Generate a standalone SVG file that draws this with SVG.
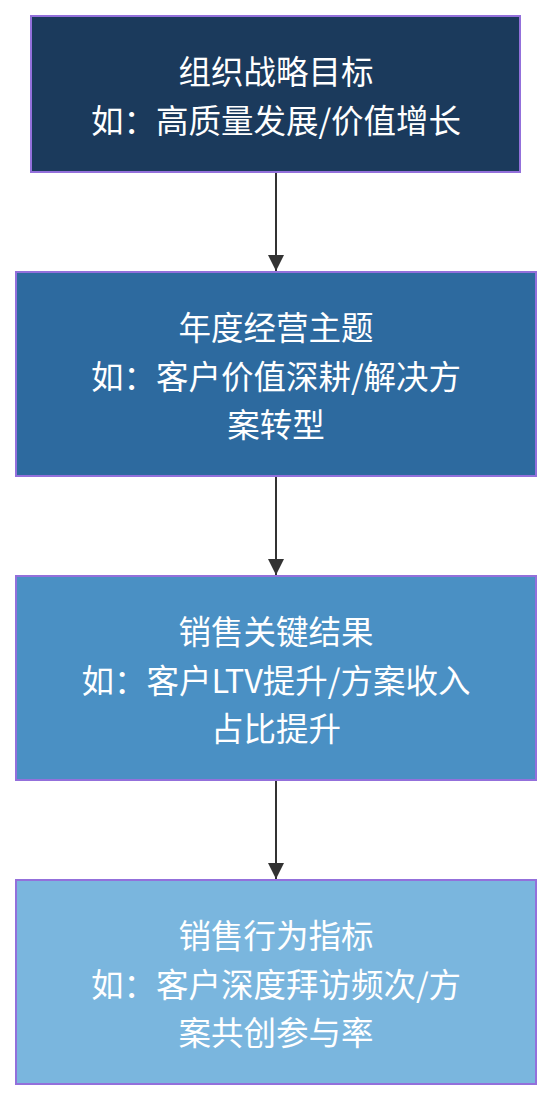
<svg xmlns="http://www.w3.org/2000/svg" width="552" height="1100" viewBox="0 0 552 1100">
<style>
.box{stroke:#9370DB;stroke-width:2}
.t{font-family:"Noto Sans CJK SC","Noto Sans",sans-serif;font-size:32.5px;fill:#ffffff;text-anchor:middle;dominant-baseline:central}
.edge{stroke:#333333;stroke-width:2;fill:none}
</style>
<defs>
<marker id="arrow" viewBox="0 0 10 10" refX="10" refY="5" markerUnits="userSpaceOnUse" markerWidth="16" markerHeight="16" orient="auto">
<path d="M0,0 L10,5 L0,10 z" fill="#333333"/>
</marker>
</defs>
<rect width="552" height="1100" fill="#ffffff"/>
<g id="edges">
<path class="edge" d="M276,172 L276,271" marker-end="url(#arrow)"/>
<path class="edge" d="M276,476 L276,575" marker-end="url(#arrow)"/>
<path class="edge" d="M276,780 L276,879" marker-end="url(#arrow)"/>
</g>
<g id="n1">
<rect class="box" x="31" y="16" width="489" height="156" fill="#1b3a5c"/>
<text class="t" x="276" y="69">组织战略目标</text>
<text class="t" x="276" y="118">如：高质量发展/价值增长</text>
</g>
<g id="n2">
<rect class="box" x="16" y="272" width="520" height="204" fill="#2d6a9f"/>
<text class="t" x="276" y="325">年度经营主题</text>
<text class="t" x="276" y="374">如：客户价值深耕/解决方</text>
<text class="t" x="276" y="422">案转型</text>
</g>
<g id="n3">
<rect class="box" x="16" y="576" width="520" height="204" fill="#4a90c4"/>
<text class="t" x="276" y="629">销售关键结果</text>
<text class="t" x="276" y="678">如：客户LTV提升/方案收入</text>
<text class="t" x="276" y="726">占比提升</text>
</g>
<g id="n4">
<rect class="box" x="16" y="880" width="520" height="204" fill="#7ab6de"/>
<text class="t" x="276" y="933">销售行为指标</text>
<text class="t" x="276" y="982">如：客户深度拜访频次/方</text>
<text class="t" x="276" y="1030">案共创参与率</text>
</g>
</svg>
